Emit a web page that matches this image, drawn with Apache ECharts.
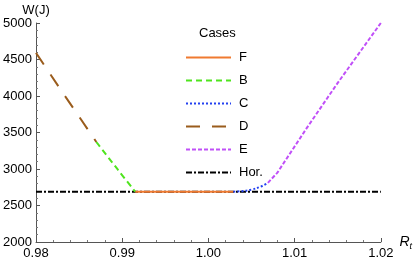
<!DOCTYPE html>
<html><head><meta charset="utf-8">
<script src="https://cdn.jsdelivr.net/npm/echarts@6/dist/echarts.min.js"></script>
<style>html,body{margin:0;padding:0;background:#fff}#c{width:415px;height:263px}</style>
</head><body><div id="c"></div>
<script>
// Data
var legendNames = ['F', 'B', 'C', 'D', 'E', 'Hor.'];
var fX = [0.9915, 1.0029];
var fY = [2690, 2690];
var bX = [0.987, 0.9895, 0.9915];
var bY = [3370, 2990, 2690];
var cX = [1.0029, 1.004, 1.005, 1.006, 1.0069];
var cY = [2690, 2698, 2718, 2755, 2810];
var dX = [0.98, 0.9827, 0.987];
var dY = [4590, 4115, 3370];
var eX = [1.0069, 1.008, 1.0114, 1.015, 1.02];
var eY = [2810, 2950, 3560, 4180, 5000];
var hX = [0.98, 1.02];
var hY = [2690, 2690];
var xTicks = [0.98, 0.99, 1.00, 1.01, 1.02];
var yTicks = [2000, 2500, 3000, 3500, 4000, 4500, 5000];

function pts(xs, ys) { return xs.map(function (x, i) { return [x, ys[i]]; }); }

var font = 'Liberation Sans, Arial, sans-serif';
function lineSeries(name, xs, ys, color, dash, z, smooth) {
  return {
    name: name, type: 'line', data: pts(xs, ys), symbol: 'none', z: z, smooth: smooth || false,
    color: color, itemStyle: { color: color },
    lineStyle: { color: color, width: 2, type: dash }
  };
}
var chart = echarts.init(document.getElementById('c'));
chart.setOption({
  animation: false,
  textStyle: { fontFamily: font },
  grid: { left: 36, right: 26, top: 23, bottom: 21 },
  legend: {
    data: legendNames,
    orient: 'vertical',
    left: 180, top: 46,
    itemWidth: 45, itemHeight: 14, itemGap: 10,
    itemStyle: { opacity: 0 },
    textStyle: { fontSize: 13, color: '#000', fontFamily: font, padding: [0, 0, 0, 3] }
  },
  graphic: [{
    type: 'text', left: 199, top: 27,
    style: { text: 'Cases', fontSize: 13, fill: '#000', fontFamily: font }
  }],
  xAxis: {
    type: 'value', min: xTicks[0], max: xTicks[xTicks.length - 1], interval: 0.01,
    name: '{r|R}{t|t}', nameLocation: 'end', nameGap: 9,
    nameTextStyle: {
      rich: {
        r: { fontSize: 14, fontStyle: 'italic', color: '#000', fontFamily: font },
        t: { fontSize: 9, fontStyle: 'italic', color: '#000', fontFamily: font, padding: [8, 0, 0, 0] }
      }
    },
    axisLine: { lineStyle: { color: '#555', width: 1 } },
    axisTick: { inside: true, length: 4, lineStyle: { color: '#555' } },
    minorTick: { show: true, splitNumber: 5, length: 2, lineStyle: { color: '#777' } },
    splitLine: { show: false },
    axisLabel: { fontSize: 13, color: '#000', margin: 5, formatter: function (v) { return v.toFixed(2); } }
  },
  yAxis: {
    type: 'value', min: yTicks[0], max: yTicks[yTicks.length - 1], interval: 500,
    name: 'W(J)', nameLocation: 'end', nameGap: 5,
    nameTextStyle: { fontSize: 13, color: '#000', fontFamily: font },
    axisLine: { show: true, lineStyle: { color: '#555', width: 1 } },
    axisTick: { show: true, inside: true, length: 4, lineStyle: { color: '#555' } },
    minorTick: { show: true, splitNumber: 5, length: 2, lineStyle: { color: '#777' } },
    splitLine: { show: false },
    axisLabel: { fontSize: 13, color: '#000', margin: 4, formatter: function (v) { return String(v); } }
  },
  series: [
    lineSeries('Hor.', hX, hY, '#000000', [6, 2, 2, 2], 1),
    lineSeries('F', fX, fY, '#f07a30', 'solid', 3),
    lineSeries('B', bX, bY, '#4fe41e', [6, 4], 3, 0.3),
    lineSeries('C', cX, cY, '#2340f0', [2, 2], 3, 0.4),
    lineSeries('D', dX, dY, '#9a5c1c', [14, 12], 3),
    lineSeries('E', eX, eY, '#c050f8', [4, 2], 3)
  ]
});
</script></body></html>
